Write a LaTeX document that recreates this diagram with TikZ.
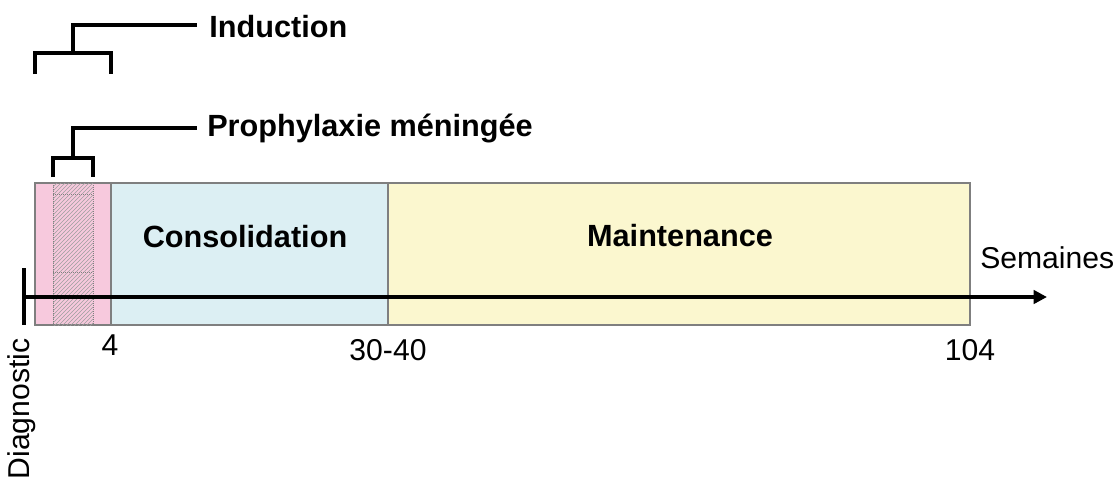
\documentclass[tikz,border=0pt]{standalone}
\usepackage{fontspec}
\setmainfont{Liberation Sans}
\usetikzlibrary{patterns,arrows.meta}
\definecolor{pinkfill}{HTML}{F7C9DD}
\definecolor{bluefill}{HTML}{DCEFF3}
\definecolor{yellowfill}{HTML}{FBF7CF}
\definecolor{boxline}{HTML}{7F7F7F}
\tikzset{
  phase/.style={draw=boxline, line width=0.9pt},
  bracket/.style={line width=2.4pt, line cap=butt},
  lbl/.style={font=\fontsize{22.6}{26}\selectfont, inner sep=0pt},
  blbl/.style={font=\fontsize{23}{27}\selectfont\bfseries, inner sep=0pt},
}
\begin{document}
\begin{tikzpicture}[x=0.75pt,y=-0.75pt]
\useasboundingbox (0,0) rectangle (1118,480);
% phases
\filldraw[phase, fill=pinkfill] (35,183) rectangle (111,325);
\fill[pattern=north east lines, pattern color=gray!75] (53,183) rectangle (93,325);
\draw[gray, densely dotted, line width=0.5pt] (53,183) -- (53,325) (93,183) -- (93,325) (53,194) -- (93,194) (53,272) -- (93,272);
\filldraw[phase, fill=bluefill] (111,183) rectangle (388,325);
\filldraw[phase, fill=yellowfill] (388,183) rectangle (970,325);
\node[blbl] (cons) at (245,237) {Consolidation};
\node[blbl] (maint) at (680,236) {Maintenance};
% axis
\coordinate (a0) at (24,297);
\coordinate (a1) at (1047,297);
\draw[line width=3.2pt, -{Triangle[length=10pt,width=10pt]}] (a0) -- (a1);
\coordinate (t0) at (24,268);
\coordinate (t1) at (24,325);
\draw[line width=2.4pt] (t0) -- (t1);
\node[lbl, anchor=west] (sem) at (980,258) {Semaines};
\node[lbl] (w4) at (110,345) {4};
\node[lbl] (w30) at (388,350) {30-40};
\node[lbl] (w104) at (970,350) {104};
\node[lbl, rotate=90] (diag) at (22,409) {Diagnostic};
% brackets
\coordinate (i1) at (35,74);
\coordinate (i2) at (35,53);
\coordinate (i3) at (111,53);
\coordinate (i4) at (111,74);
\coordinate (i5) at (73,53);
\coordinate (i6) at (73,25);
\coordinate (i7) at (197,25);
\draw[bracket] (i1) -- (i2) -- (i3) -- (i4);
\draw[bracket] (i5) -- (i6) -- (i7);
\node[blbl, anchor=west] (ind) at (209,27) {Induction};
\coordinate (p1) at (53,177);
\coordinate (p2) at (53,158);
\coordinate (p3) at (93,158);
\coordinate (p4) at (93,177);
\coordinate (p5) at (73,158);
\coordinate (p6) at (73,128);
\coordinate (p7) at (197,128);
\draw[bracket] (p1) -- (p2) -- (p3) -- (p4);
\draw[bracket] (p5) -- (p6) -- (p7);
\node[blbl, anchor=west] (pro) at (207,128) {Prophylaxie méningée};
\end{tikzpicture}
\end{document}
